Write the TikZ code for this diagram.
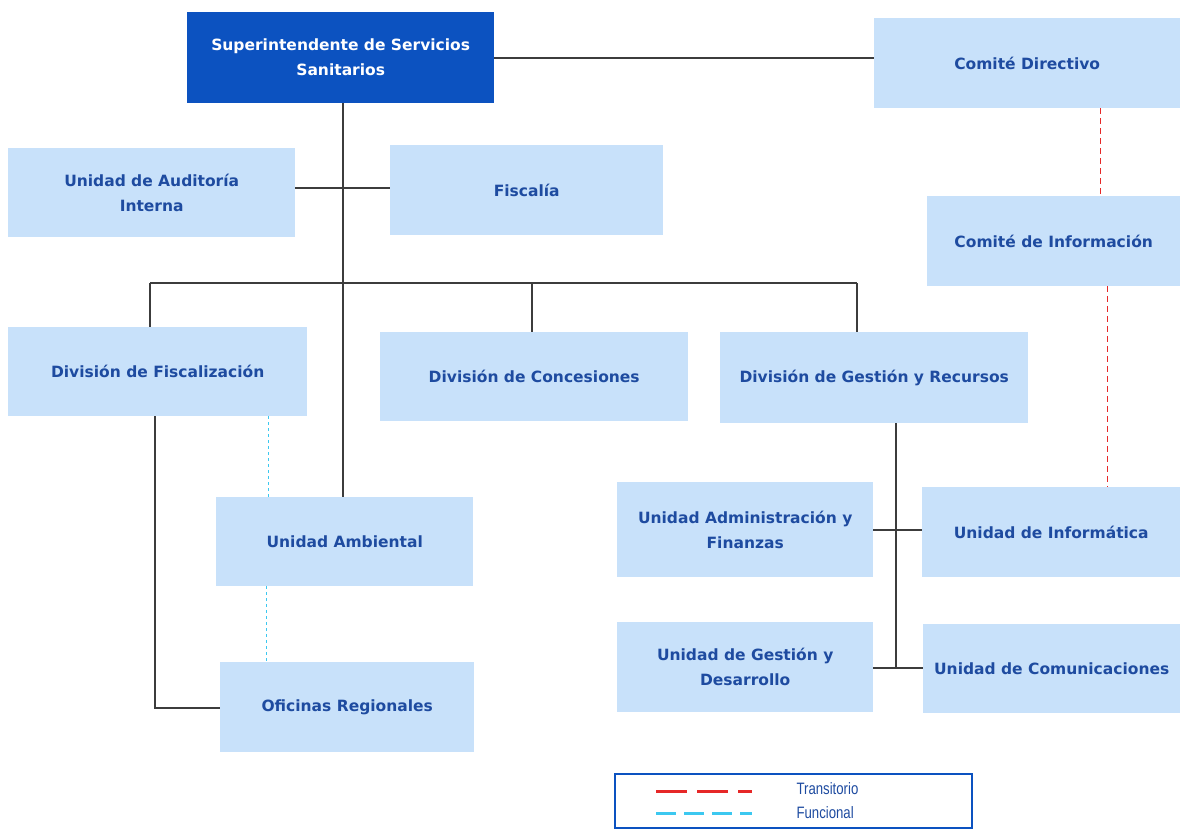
\documentclass[tikz,border=0pt]{standalone}
\usepackage{fontspec}
\setmainfont{DejaVu Sans}
\newfontfamily\legfont{Liberation Sans}
\definecolor{boxfill}{RGB}{200,225,250}
\definecolor{darkbox}{RGB}{12,82,192}
\definecolor{txtblue}{RGB}{30,75,160}
\definecolor{linegray}{RGB}{60,60,60}
\definecolor{redd}{RGB}{230,40,40}
\definecolor{cyand}{RGB}{60,200,240}
\begin{document}
\begin{tikzpicture}[x=1pt,y=-1pt,
  unitbox/.style={fill=boxfill,draw=none,text=txtblue,font=\bfseries\fontsize{15.5}{25}\selectfont,align=center,inner sep=0pt,anchor=north west},
  conn/.style={draw=linegray,line width=1.3pt},
  transit/.style={draw=redd,line width=1pt,dash pattern=on 6pt off 4pt},
  funct/.style={draw=cyand,line width=1pt,dash pattern=on 3pt off 3pt},
  legtext/.style={anchor=west,text=txtblue,font=\legfont\fontsize{16.5}{18}\selectfont\addfontfeature{FakeStretch=0.8}}]
\useasboundingbox (0,0) rectangle (1180,828);
% boxes
\node[unitbox,fill=darkbox,text=white,minimum width=307,minimum height=91] (sup) at (187,12) {Superintendente de Servicios\\Sanitarios};
\node[unitbox,minimum width=306,minimum height=90] (cdir) at (874,18) {Comité Directivo};
\node[unitbox,minimum width=287,minimum height=89] (aud) at (8,148) {Unidad de Auditoría\\Interna};
\node[unitbox,minimum width=273,minimum height=90] (fis) at (390,145) {Fiscalía};
\node[unitbox,minimum width=253,minimum height=90] (cinf) at (927,196) {Comité de Información};
\node[unitbox,minimum width=299,minimum height=89] (dfis) at (8,327) {División de Fiscalización};
\node[unitbox,minimum width=308,minimum height=89] (dcon) at (380,332) {División de Concesiones};
\node[unitbox,minimum width=308,minimum height=91] (dges) at (720,332) {División de Gestión y Recursos};
\node[unitbox,minimum width=257,minimum height=89] (uamb) at (216,497) {Unidad Ambiental};
\node[unitbox,minimum width=256,minimum height=95] (uadm) at (617,482) {Unidad Administración y\\Finanzas};
\node[unitbox,minimum width=258,minimum height=90] (uinf) at (922,487) {Unidad de Informática};
\node[unitbox,minimum width=256,minimum height=90] (ugd) at (617,622) {Unidad de Gestión y\\Desarrollo};
\node[unitbox,minimum width=257,minimum height=89] (ucom) at (923,624) {Unidad de Comunicaciones};
\node[unitbox,minimum width=254,minimum height=90] (ofr) at (220,662) {Oficinas Regionales};
% connectors
\coordinate (t0) at (343,283);
\coordinate (h1) at (0,58);
\coordinate (h2) at (0,188);
\coordinate (h3) at (0,530);
\draw[conn] (sup.east |- h1) -- (cdir.west |- h1);
\draw[conn] (sup.south -| t0) -- (uamb.north -| t0);
\draw[conn] (aud.east |- h2) -- (fis.west |- h2);
\draw[conn] (150,283) coordinate (tl) -- (857,283) coordinate (tr);
\draw[conn] (tl) -- (tl |- dfis.north);
\draw[conn] (532,283) coordinate (tm) -- (tm |- dcon.north);
\draw[conn] (tr) -- (tr |- dges.north);
\coordinate (fl) at (155,708);
\draw[conn] (fl |- dfis.south) -- (fl) -- (fl -| ofr.west);
\coordinate (gl) at (896,668);
\draw[conn] (gl |- dges.south) -- (gl);
\draw[conn] (uadm.east |- h3) -- (uinf.west |- h3);
\draw[conn] (ugd.east |- gl) -- (ucom.west |- gl);
\draw[funct] (268,416) -- (268,497);
\draw[funct] (266,586) -- (266,662);
\draw[transit] (1100,108) -- (1100,196);
\draw[transit] (1107,286) -- (1107,487);
% legend
\node[draw=darkbox,line width=1.5pt,minimum width=357,minimum height=54,anchor=north west,inner sep=0pt] (leg) at (614,773) {};
\draw[draw=redd,line width=3pt,dash pattern=on 31pt off 10pt] (656,791) -- (752,791);
\draw[draw=cyand,line width=3pt,dash pattern=on 20pt off 8pt] (656,813) -- (752,813);
\node[legtext] (lt) at (793,789) {Transitorio};
\node[legtext] (lf) at (793,813) {Funcional};
\end{tikzpicture}
\end{document}
